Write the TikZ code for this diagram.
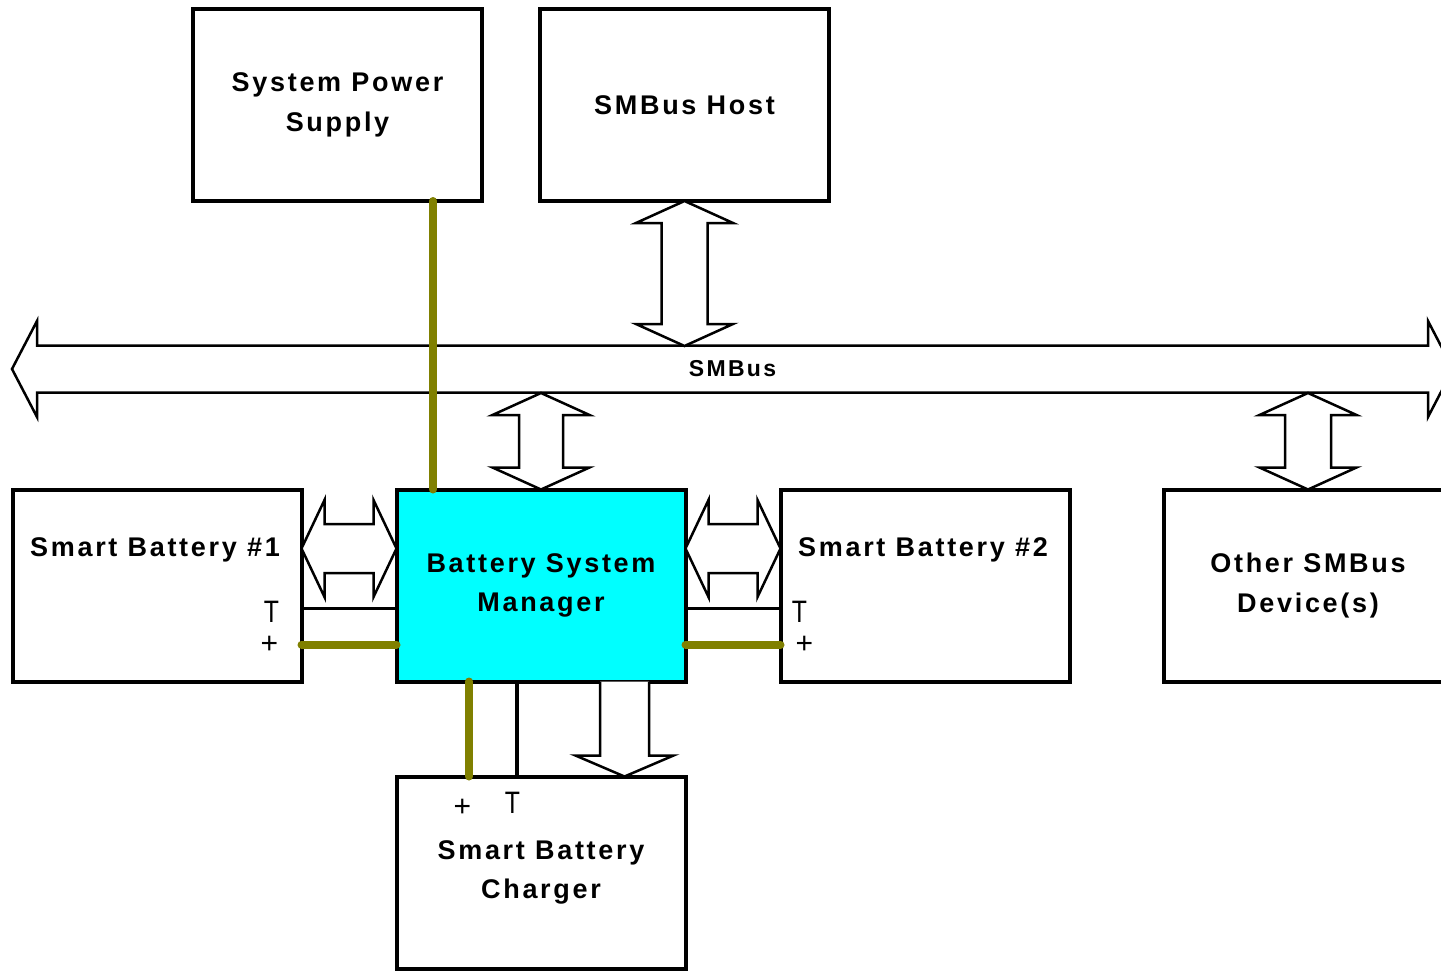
\documentclass[tikz,border=0pt]{standalone}
\usepackage{fontspec}
\setmainfont{Liberation Sans}
\newfontfamily\cajafont[LetterSpace=10]{Liberation Sans}
\newfontfamily\polofont[FakeStretch=0.8]{Liberation Sans}
\usetikzlibrary{positioning, calc}
\definecolor{gestor}{RGB}{0,255,255}
\definecolor{potencia}{RGB}{128,128,0}
\tikzset{
	x=1pt, y=-1pt, % Coordenadas en pixeles, y hacia abajo
	caja/.style={draw, line width=4pt, minimum width=289pt, minimum height=192pt, inner sep=0pt, outer sep=0pt, align=center, font=\cajafont\bfseries\fontsize{27}{39.5}\selectfont}, % Bloques del sistema
	titulo/.style={inner sep=0pt, font=\cajafont\bfseries\fontsize{27}{39.5}\selectfont}, % Texto arriba del bloque
	polo/.style={inner sep=0pt, font=\polofont\fontsize{31}{31}\selectfont}, % Terminal T
	mas/.style={inner sep=0pt, font=\fontsize{30}{30}\selectfont}, % Terminal +
	tlinea/.style={draw, line width=3.5pt}, % Linea de temperatura
	plinea/.style={draw=potencia, line width=8pt, line cap=round}, % Linea de potencia
	hflecha/.style args={#1/#2/#3}{draw, line width=2.5pt, fill=white, to path={let \p1=(\tikztostart), \p2=(\tikztotarget) in
		(\x1,\y1) -- ({\x1+#3pt},{\y1+#1pt}) -- ({\x1+#3pt},{\y1+#2pt}) -- ({\x2-#3pt},{\y1+#2pt}) -- ({\x2-#3pt},{\y1+#1pt}) -- (\x2,\y1)
		-- ({\x2-#3pt},{\y1-#1pt}) -- ({\x2-#3pt},{\y1-#2pt}) -- ({\x1+#3pt},{\y1-#2pt}) -- ({\x1+#3pt},{\y1-#1pt}) -- cycle}}, % Flecha doble horizontal
	vflecha/.style args={#1/#2/#3}{draw, line width=2.5pt, fill=white, to path={let \p1=(\tikztostart), \p2=(\tikztotarget) in
		(\x1,\y1) -- ({\x1+#1pt},{\y1-#3pt}) -- ({\x1+#2pt},{\y1-#3pt}) -- ({\x1+#2pt},{\y2+#3pt}) -- ({\x1+#1pt},{\y2+#3pt}) -- (\x1,\y2)
		-- ({\x1-#1pt},{\y2+#3pt}) -- ({\x1-#2pt},{\y2+#3pt}) -- ({\x1-#2pt},{\y1-#3pt}) -- ({\x1-#1pt},{\y1-#3pt}) -- cycle}}, % Flecha doble vertical
	sflecha/.style args={#1/#2/#3}{draw, line width=2.5pt, fill=white, to path={let \p1=(\tikztostart), \p2=(\tikztotarget) in
		({\x1-#2pt},\y1) -- ({\x1-#2pt},{\y2+#3pt}) -- ({\x1-#1pt},{\y2+#3pt}) -- (\x1,\y2) -- ({\x1+#1pt},{\y2+#3pt}) -- ({\x1+#2pt},{\y2+#3pt}) -- ({\x1+#2pt},\y1)}} % Flecha simple hacia abajo
}

\begin{document}
\begin{tikzpicture}
				\useasboundingbox (0,0) rectangle (1441,971);
				\node[caja] (psu) at (337.5,105) {System Power\\Supply};
				\node[caja, right=58pt of psu] (host) {SMBus Host};
				\node[caja, fill=gestor] (bsm) at (541,585.5) {Battery System\\Manager};
				\node[caja, left=95pt of bsm] (sb1) {};
				\node[caja, right=95pt of bsm] (sb2) {};
				\node[caja, right=94pt of sb2] (otro) {Other SMBus\\Device(s)};
				\node[caja, below=95pt of bsm] (cargador) {Smart Battery\\Charger};
				\node[titulo] (sb1txt) at ([xshift=-2pt, yshift=-60pt]sb1.north) {Smart Battery \#1};
				\node[titulo] (sb2txt) at ([xshift=-2pt, yshift=-60pt]sb2.north) {Smart Battery \#2};

				\coordinate (busizq) at (12,369);
				\coordinate (busder) at (1453,369);
				\coordinate (busarriba) at (12,346);
				\coordinate (busabajo) at (12,393);
				\draw[hflecha=48/23.5/25] (busizq) to (busder);
				\node[titulo, font=\cajafont\bfseries\fontsize{23}{23}\selectfont] (smbus) at ($(busizq)!0.5!(busder)$) {SMBus};

				\draw[vflecha=48.5/23/22] (host.south) to (host.south |- busarriba);
				\draw[vflecha=48.5/22/22] (bsm.north |- busabajo) to (bsm.north);
				\draw[vflecha=48.5/23/22] (otro.north |- busabajo) to (otro.north);
				\draw[hflecha=48.5/24.5/23] ([yshift=37pt]sb1.east) to ([yshift=37pt]bsm.west);
				\draw[hflecha=48.5/24.5/23] ([yshift=37pt]bsm.east) to ([yshift=37pt]sb2.west);

				\draw[tlinea] ([yshift=-23pt]sb1.east) -- ([yshift=-23pt]bsm.west);
				\draw[tlinea] ([yshift=-23pt]bsm.east) -- ([yshift=-23pt]sb2.west);
				\draw[plinea] ([yshift=-59pt]sb1.east) -- ([yshift=-59pt]bsm.west);
				\draw[plinea] ([yshift=-59pt]bsm.east) -- ([yshift=-59pt]sb2.west);

				\coordinate (pcarga) at ([xshift=-108pt]bsm.north);
				\draw[plinea] (pcarga |- psu.south) -- (pcarga);
				\coordinate (cmas) at ([xshift=-72pt]bsm.south);
				\coordinate (ctemp) at ([xshift=-24pt]bsm.south);
				\coordinate (cdatos) at ([xshift=83.5pt]bsm.south);
				\draw[tlinea] (ctemp) -- (ctemp |- cargador.north);
				\draw[plinea] (cmas) -- (cmas |- cargador.north);
				\draw[sflecha=49/24.5/21] (cdatos) to (cdatos |- cargador.north);

				\node[polo] (sb1t) at ([xshift=-30pt, yshift=-26.5pt]sb1.east) {T};
				\node[mas] (sb1p) at ([xshift=-32pt, yshift=-59.5pt]sb1.east) {+};
				\node[polo] (sb2t) at ([xshift=19pt, yshift=-26.5pt]sb2.west) {T};
				\node[mas] (sb2p) at ([xshift=24pt, yshift=-59.5pt]sb2.west) {+};
				\node[mas] (cp) at ([xshift=-78.5pt, yshift=-31pt]cargador.north) {+};
				\node[polo] (ct) at ([xshift=-28.5pt, yshift=-26pt]cargador.north) {T};
\end{tikzpicture}
\end{document}
